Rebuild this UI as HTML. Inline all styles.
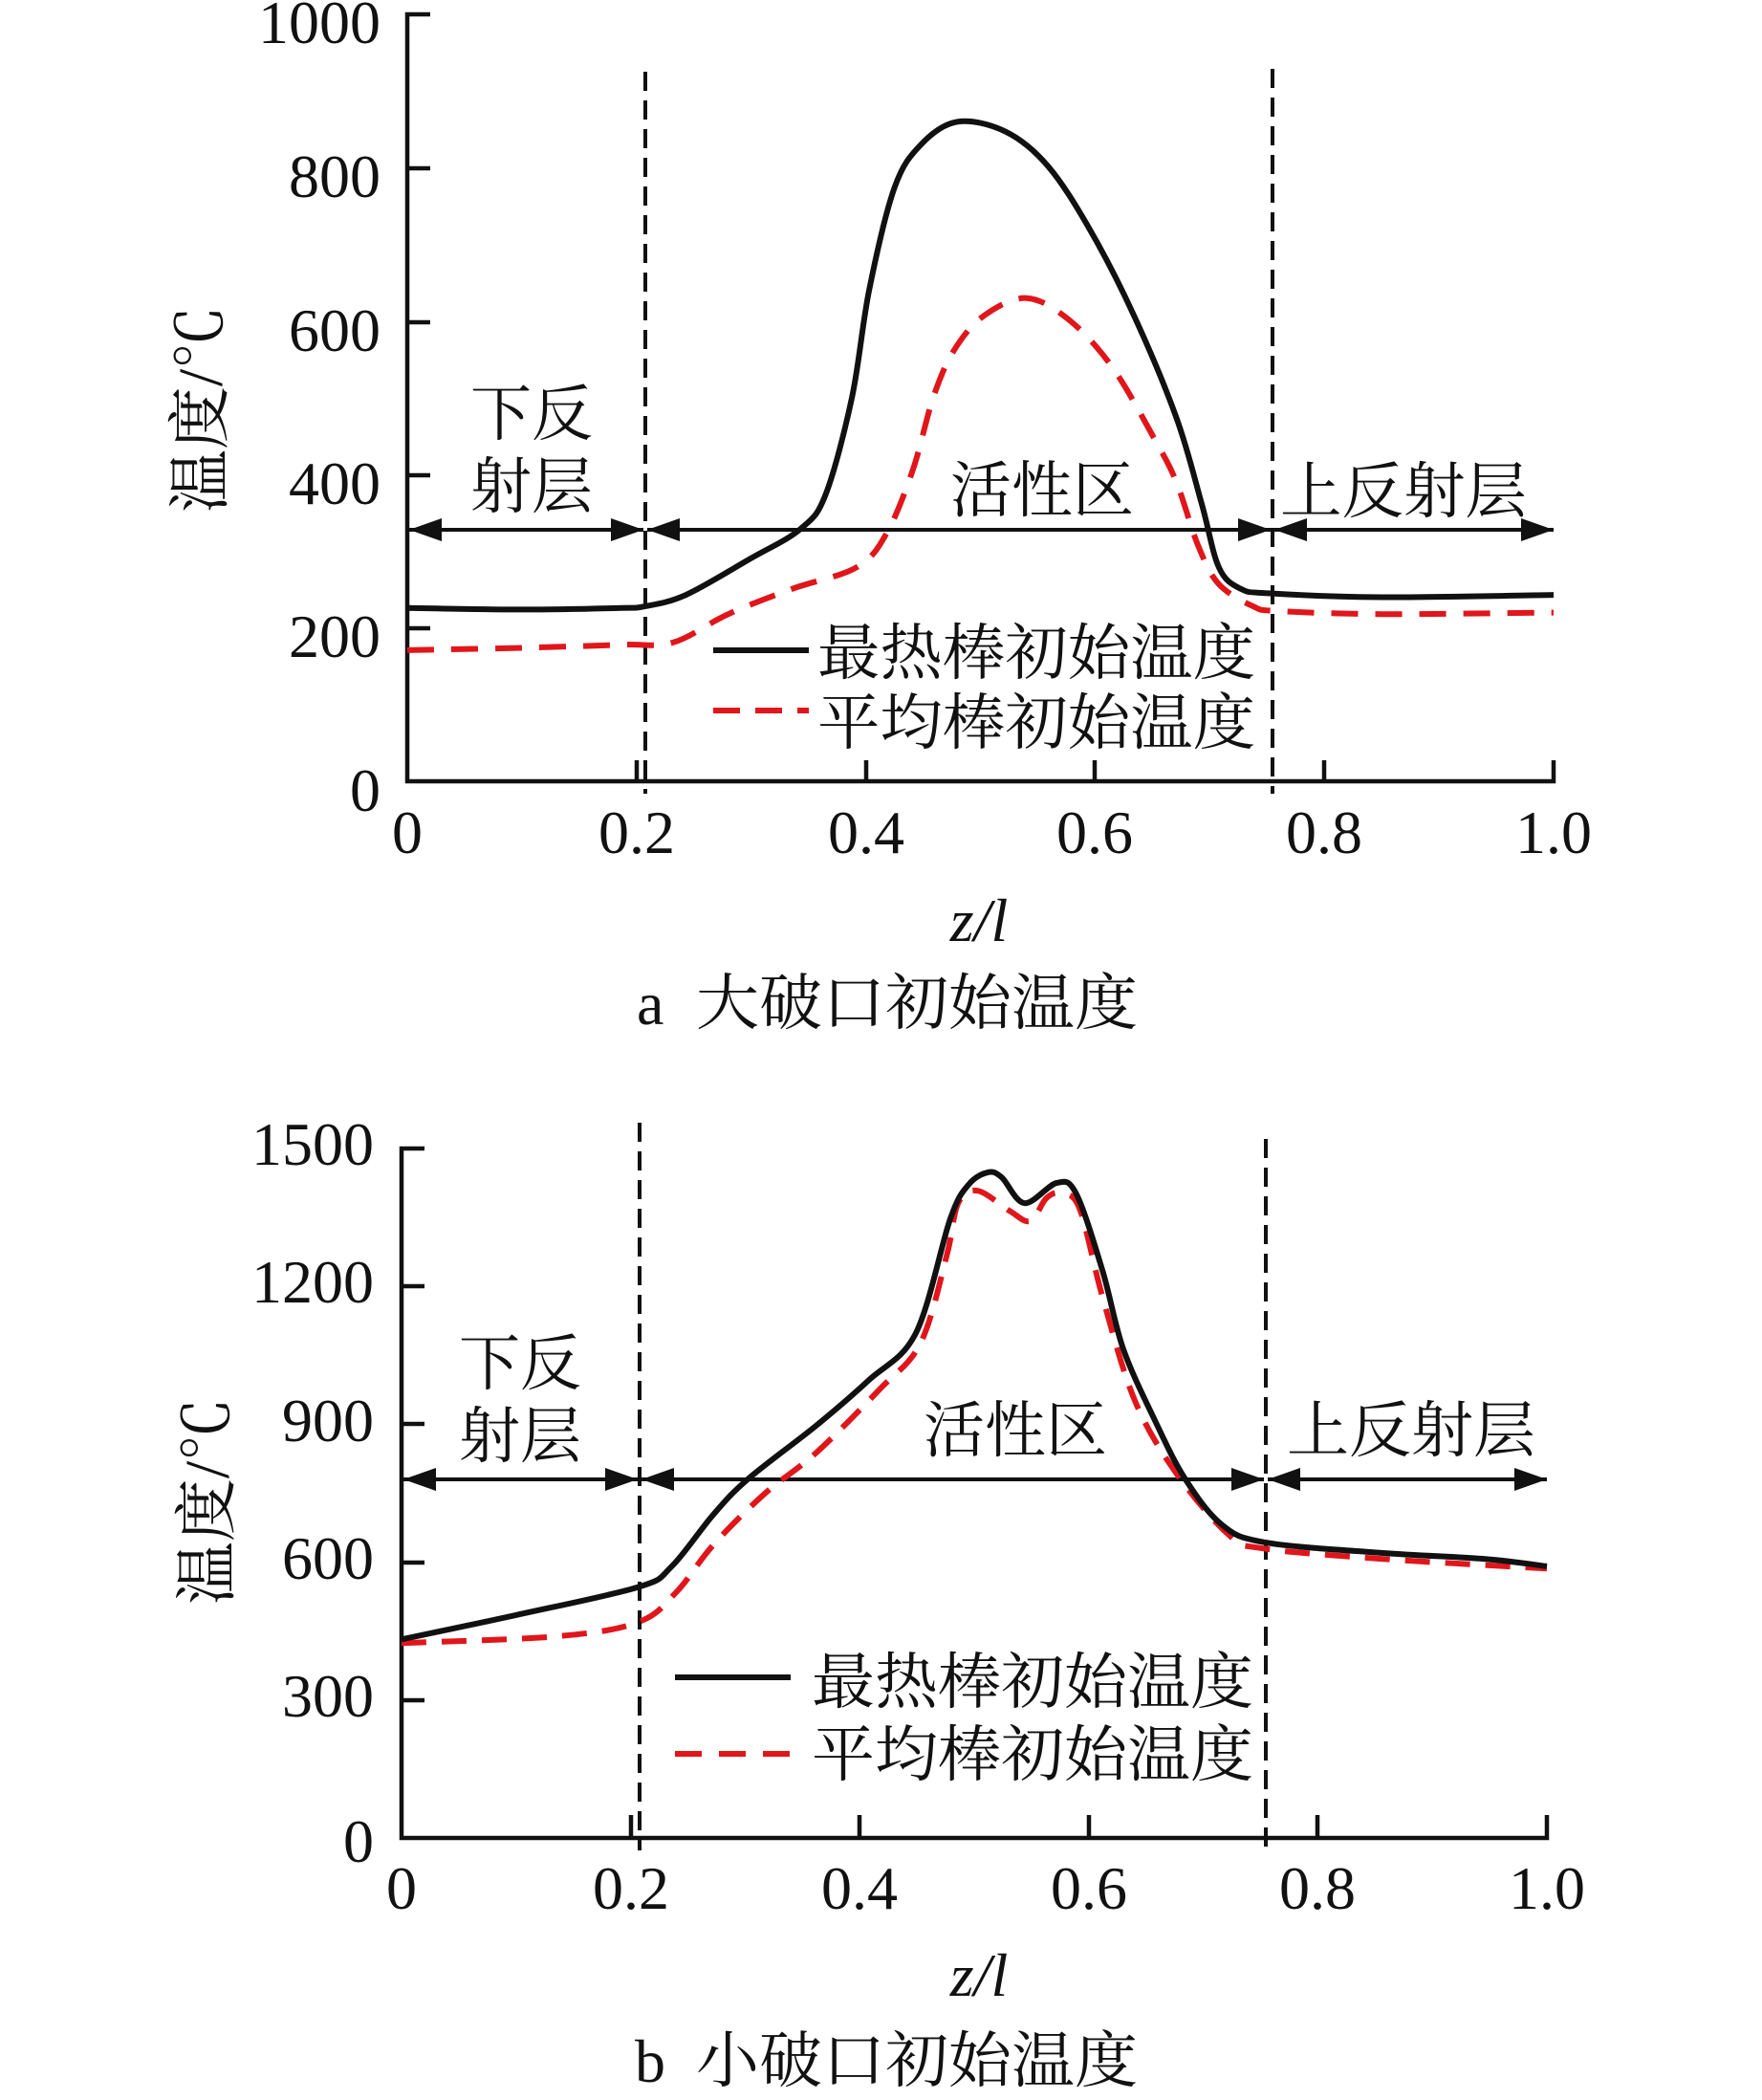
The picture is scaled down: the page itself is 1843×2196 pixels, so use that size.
<!DOCTYPE html>
<html><head><meta charset="utf-8"><style>
html,body{margin:0;padding:0;background:#fff;}
svg{display:block;}
text{font-family:"Liberation Serif","Noto Serif CJK SC","Noto Sans CJK SC",serif;fill:#111;}
</style></head><body>
<svg id="s" width="1843" height="2196" viewBox="0 0 1843 2196" xmlns="http://www.w3.org/2000/svg">
<defs>
<marker id="ah" viewBox="0 0 34 24" refX="34" refY="12" markerWidth="34" markerHeight="24" markerUnits="userSpaceOnUse" orient="auto-start-reverse">
<path d="M0,0 L34,12 L0,24 Z" fill="#111"/></marker>
</defs>
<g stroke="#111" stroke-width="4.5" fill="none">
<path d="M450,15 H426 V817 H1625 V795"/>
<path d="M426,176 H450 M426,337 H450 M426,497 H450 M426,657 H450"/>
<path d="M666,817 V795 M906,817 V795 M1145,817 V795 M1385,817 V795"/>
<path d="M444,1201 H420 V1922 H1618 V1898"/>
<path d="M420,1345 H444 M420,1489 H444 M420,1634 H444 M420,1778 H444"/>
<path d="M660,1922 V1898 M899,1922 V1898 M1139,1922 V1898 M1378,1922 V1898"/>
</g>
<g stroke="#111" stroke-width="4" stroke-dasharray="20,10" fill="none">
<path d="M675,75 V830"/><path d="M1331,72 V830"/>
<path d="M669,1174 V1935"/><path d="M1324,1191 V1935"/>
</g>
<g stroke="#111" stroke-width="4" fill="none">
<path d="M428,554 H673" marker-start="url(#ah)" marker-end="url(#ah)"/>
<path d="M677,554 H1329" marker-start="url(#ah)" marker-end="url(#ah)"/>
<path d="M1333,554 H1625" marker-start="url(#ah)" marker-end="url(#ah)"/>
<path d="M422,1547 H667" marker-start="url(#ah)" marker-end="url(#ah)"/>
<path d="M671,1547 H1322" marker-start="url(#ah)" marker-end="url(#ah)"/>
<path d="M1326,1547 H1618" marker-start="url(#ah)" marker-end="url(#ah)"/>
</g>
<g id="curves"></g>
<path d="M746,680 H846" stroke="#111" stroke-width="6"/>
<path d="M746,743 H846" stroke="#e0161b" stroke-width="6" stroke-dasharray="28,16"/>
<path d="M706,1754 H827" stroke="#111" stroke-width="6"/>
<path d="M706,1834 H827" stroke="#e0161b" stroke-width="6" stroke-dasharray="28,18"/>
<g font-size="64">
<text x="855" y="705" textLength="458" lengthAdjust="spacingAndGlyphs">最热棒初始温度</text>
<text x="855" y="778" textLength="458" lengthAdjust="spacingAndGlyphs">平均棒初始温度</text>
<text x="849" y="1781" textLength="462" lengthAdjust="spacingAndGlyphs">最热棒初始温度</text>
<text x="849" y="1857" textLength="462" lengthAdjust="spacingAndGlyphs">平均棒初始温度</text>
<text x="556" y="455" text-anchor="middle">下反</text>
<text x="556" y="531" text-anchor="middle">射层</text>
<text x="1090" y="535" text-anchor="middle">活性区</text>
<text x="1468" y="536" text-anchor="middle" textLength="258" lengthAdjust="spacingAndGlyphs">上反射层</text>
<text x="544" y="1448" text-anchor="middle">下反</text>
<text x="544" y="1524" text-anchor="middle">射层</text>
<text x="1062" y="1518" text-anchor="middle">活性区</text>
<text x="1476" y="1518" text-anchor="middle" textLength="260" lengthAdjust="spacingAndGlyphs">上反射层</text>
<text transform="translate(232,428) rotate(-90)" text-anchor="middle" font-size="66">温度/℃</text>
<text transform="translate(239,1570) rotate(-90)" text-anchor="middle" font-size="66">温度/℃</text>
</g>
<g font-size="64" text-anchor="end">
<text x="398" y="45">1000</text><text x="398" y="206">800</text><text x="398" y="367">600</text>
<text x="398" y="527">400</text><text x="398" y="687">200</text><text x="398" y="848">0</text>
<text x="391" y="1218">1500</text><text x="391" y="1362">1200</text><text x="391" y="1507">900</text>
<text x="391" y="1651">600</text><text x="391" y="1795">300</text><text x="391" y="1947">0</text>
</g>
<g font-size="64" text-anchor="middle">
<text x="426" y="892">0</text><text x="666" y="892">0.2</text><text x="906" y="892">0.4</text>
<text x="1145" y="892">0.6</text><text x="1385" y="892">0.8</text><text x="1625" y="892">1.0</text>
<text x="420" y="1996">0</text><text x="660" y="1996">0.2</text><text x="899" y="1996">0.4</text>
<text x="1139" y="1996">0.6</text><text x="1378" y="1996">0.8</text><text x="1618" y="1996">1.0</text>
<text x="1024" y="984" font-style="italic">z/l</text>
<text x="1024" y="2087" font-style="italic">z/l</text>
</g>
<g font-size="64">
<text x="666" y="1071">a</text>
<text x="728" y="1071" textLength="462" lengthAdjust="spacingAndGlyphs">大破口初始温度</text>
<text x="664" y="2177">b</text>
<text x="728" y="2177" textLength="462" lengthAdjust="spacingAndGlyphs">小破口初始温度</text>
</g>
</svg>
<script>
function path(pts,X,Y){
  var p=pts.map(function(d){return [X(d[0]),Y(d[1])];});
  var s="M"+p[0][0].toFixed(1)+","+p[0][1].toFixed(1);
  for(var i=0;i<p.length-1;i++){
    var p0=p[i-1]||p[i],p1=p[i],p2=p[i+1],p3=p[i+2]||p2;
    var c1=[p1[0]+(p2[0]-p0[0])/6,p1[1]+(p2[1]-p0[1])/6];
    var c2=[p2[0]-(p3[0]-p1[0])/6,p2[1]-(p3[1]-p1[1])/6];
    s+=" C"+c1[0].toFixed(1)+","+c1[1].toFixed(1)+" "+c2[0].toFixed(1)+","+c2[1].toFixed(1)+" "+p2[0].toFixed(1)+","+p2[1].toFixed(1);
  }
  return s;
}
var Xa=function(z){return 426+1199*z},Ya=function(v){return 817-0.802*v};
var Xb=function(z){return 420+1198*z},Yb=function(v){return 1922-0.4807*v};
var ab=[[0,226],[0.1,224],[0.187,226],[0.207,228],[0.243,243],[0.299,290],[0.343,329],[0.365,374],[0.388,501],[0.403,641],[0.425,774],[0.448,830],[0.48,860],[0.522,847],[0.559,802],[0.596,718],[0.634,607],[0.671,474],[0.693,362],[0.708,279],[0.727,251],[0.753,245],[0.85,240],[1,243]];
var ar=[[0,171],[0.1,174],[0.187,178],[0.232,181],[0.28,218],[0.336,251],[0.392,279],[0.418,323],[0.441,406],[0.459,501],[0.477,562],[0.503,607],[0.54,630],[0.577,602],[0.615,540],[0.652,446],[0.671,390],[0.69,307],[0.708,257],[0.738,228],[0.76,222],[0.85,218],[1,220]];
var bb=[[0,432],[0.1,485],[0.207,546],[0.236,591],[0.272,703],[0.303,782],[0.362,897],[0.408,996],[0.449,1098],[0.479,1346],[0.495,1421],[0.512,1448],[0.524,1437],[0.544,1381],[0.572,1425],[0.589,1402],[0.612,1234],[0.63,1065],[0.658,907],[0.684,782],[0.716,682],[0.754,643],[0.857,620],[0.946,607],[1,591]];
var br=[[0,424],[0.137,439],[0.207,470],[0.24,535],[0.272,637],[0.317,749],[0.362,838],[0.417,975],[0.453,1076],[0.476,1267],[0.486,1381],[0.503,1408],[0.531,1364],[0.549,1342],[0.563,1392],[0.576,1402],[0.592,1369],[0.612,1177],[0.64,953],[0.676,795],[0.722,660],[0.752,630],[0.857,607],[1,586]];
var g=document.getElementById("curves"),ns="http://www.w3.org/2000/svg";
function add(d,col,dash){var e=document.createElementNS(ns,"path");e.setAttribute("d",d);e.setAttribute("fill","none");e.setAttribute("stroke",col);e.setAttribute("stroke-width","6");if(dash)e.setAttribute("stroke-dasharray",dash);g.appendChild(e);}
add(path(ar,Xa,Ya),"#e0161b","28,18");
add(path(ab,Xa,Ya),"#111");
add(path(br,Xb,Yb),"#e0161b","26,16");
add(path(bb,Xb,Yb),"#111");
</script>
</body></html>
